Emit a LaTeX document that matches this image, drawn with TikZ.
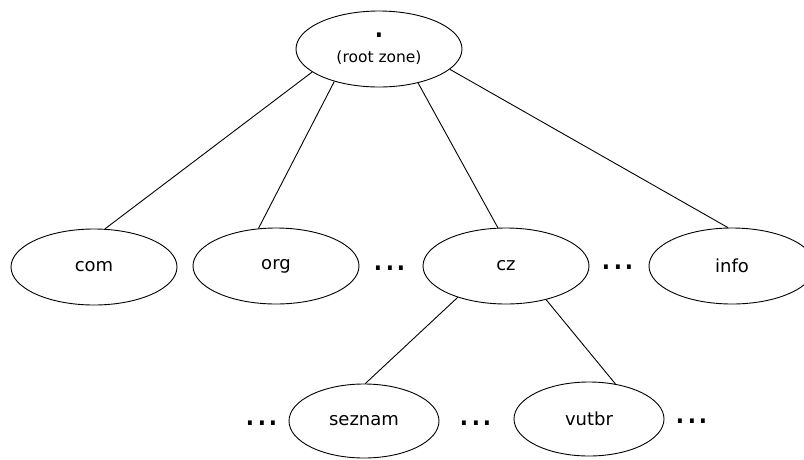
\documentclass[tikz,border=0pt]{standalone}
\usepackage{fontspec}
\setmainfont{DejaVu Sans}
\usetikzlibrary{shapes.geometric}
\definecolor{inkblack}{HTML}{000000}
\tikzset{
  zone/.style={
    ellipse, draw=inkblack, line width=0.9pt, inner sep=0pt,
    minimum width=166pt, minimum height=76pt, align=center,
    font=\fontsize{18}{22}\selectfont, text=inkblack
  },
  subzone/.style={zone, minimum width=150pt, minimum height=74pt},
  dots/.style={inner sep=0pt, font=\fontsize{37}{37}\selectfont, text=inkblack},
  link/.style={draw=inkblack, line width=0.9pt}
}
\newcommand{\rootdot}{\fontsize{37}{37}\selectfont}
\newcommand{\rootnote}{\fontsize{15.5}{18}\selectfont}

\begin{document}
\begin{tikzpicture}[x=1pt,y=-1pt]
\useasboundingbox (0,0) rectangle (804,459);
\node[zone, font=\rootnote] (root) at (379,49) {{\rootdot .}\\[7pt](root zone)};
\node[zone] (com) at (94,267) {com};
\node[zone] (org) at (276,266) {org};
\node[zone] (cz) at (506,266) {cz};
\node[zone] (info) at (732,266) {info};
\node[subzone] (seznam) at (364,421) {seznam};
\node[subzone] (vutbr) at (589,419) {vutbr};
\node[dots] (gapa) at (390,268) {...};
\node[dots] (gapb) at (618,267) {...};
\node[dots] (gapc) at (262,423) {...};
\node[dots] (gapd) at (476,423) {...};
\node[dots] (gape) at (692,421) {...};
\draw[link] (root.199) -- (com.74);
\draw[link] (root.216) -- (org.115);
\draw[link] (root.319) -- (cz.102);
\draw[link] (root.344) -- (info.96);
\draw[link] (cz.213) -- (seznam.88);
\draw[link] (cz.320) -- (vutbr.53);
\end{tikzpicture}
\end{document}
